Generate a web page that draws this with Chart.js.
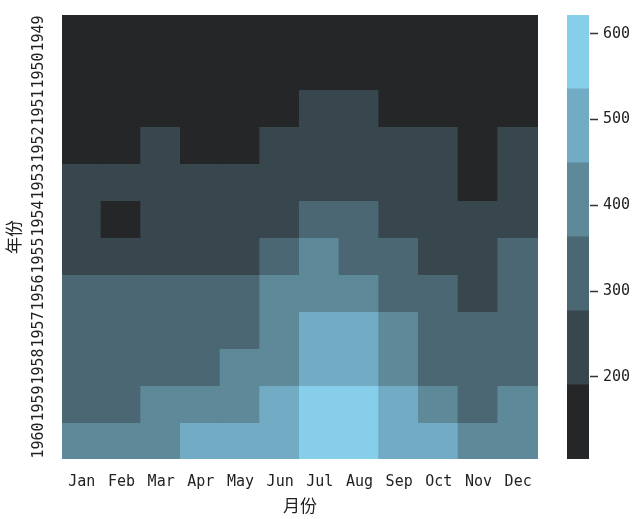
<!DOCTYPE html>
<html>
<head>
<meta charset="utf-8">
<script src="https://cdn.jsdelivr.net/npm/chart.js@4"></script>
<style>
  html, body { margin: 0; padding: 0; background: #fff; }
  #wrap { position: relative; width: 640px; height: 519px; }
  #wrap canvas { position: absolute; top: 0; }
</style>
</head>
<body>
<div id="wrap">
  <canvas id="heat" width="640" height="519" style="left:0"></canvas>
  <canvas id="bar" width="100" height="519" style="left:540px"></canvas>
</div>
<script>
// flights: 每月乘客人数
const months = ['Jan', 'Feb', 'Mar', 'Apr', 'May', 'Jun', 'Jul', 'Aug', 'Sep', 'Oct', 'Nov', 'Dec'];
const years = ['1949', '1950', '1951', '1952', '1953', '1954', '1955', '1956', '1957', '1958', '1959', '1960'];
const passengers = [
  [112, 118, 132, 129, 121, 135, 148, 148, 136, 119, 104, 118],
  [115, 126, 141, 135, 125, 149, 170, 170, 158, 133, 114, 140],
  [145, 150, 178, 163, 172, 178, 199, 199, 184, 162, 146, 166],
  [171, 180, 193, 181, 183, 218, 230, 242, 209, 191, 172, 194],
  [196, 196, 236, 235, 229, 243, 264, 272, 237, 211, 180, 201],
  [204, 188, 235, 227, 234, 264, 302, 293, 259, 229, 203, 229],
  [242, 233, 267, 269, 270, 315, 364, 347, 312, 274, 237, 278],
  [284, 277, 317, 313, 318, 374, 413, 405, 355, 306, 271, 306],
  [315, 301, 356, 348, 355, 422, 465, 467, 404, 347, 305, 336],
  [340, 318, 362, 348, 363, 435, 491, 505, 404, 359, 310, 337],
  [360, 342, 406, 396, 420, 472, 548, 559, 463, 407, 362, 405],
  [417, 391, 419, 461, 472, 535, 622, 606, 508, 461, 390, 432],
];
const cbarTicks = [200, 300, 400, 500, 600];
// dark_palette('skyblue', 6)
const palette = ['#252628', '#38474e', '#4b6774', '#5e8999', '#72abc4', '#87ceeb'];

const vmin = Math.min(...passengers.flat());
const vmax = Math.max(...passengers.flat());
const step = (vmax - vmin) / palette.length;
const colorFor = v => palette[Math.min(palette.length - 1, Math.floor((v - vmin) / step))];

const monoFont = "'DejaVu Sans Mono', 'Liberation Mono', monospace";
const cjkFont = "'Noto Sans CJK SC', 'Noto Sans', sans-serif";
const ink = '#222';

Chart.defaults.animation = false;

new Chart(document.getElementById('heat'), {
  type: 'bar',
  data: {
    labels: months,
    datasets: passengers.map((row, i) => ({
      label: years[i],
      data: row.map(() => [i, i + 1]),
      backgroundColor: row.map(colorFor),
      borderWidth: 0,
      barPercentage: 1,
      categoryPercentage: 1,
      inflateAmount: 1,
      xAxisID: 'x',
      yAxisID: 'y',
    })),
  },
  options: {
    responsive: false,
    layout: { padding: { left: 0, top: 15, right: 102, bottom: 0 } },
    plugins: { legend: { display: false }, tooltip: { enabled: false } },
    scales: {
      x: {
        stacked: true,
        grid: { display: false, drawTicks: false },
        border: { display: false },
        ticks: { color: ink, font: { family: monoFont, size: 15 }, padding: 14, autoSkip: false, maxRotation: 0 },
        title: { display: true, text: '月份', color: ink, font: { family: cjkFont, size: 17 }, padding: { top: 0, bottom: 3 } },
        afterFit: s => { s.height = 60; },
      },
      y: { min: 0, max: 12, reverse: true, display: false },
      yl: {
        type: 'category',
        labels: years,
        position: 'left',
        offset: true,
        grid: { display: false, drawTicks: false },
        border: { display: false },
        ticks: {
          color: ink, font: { family: monoFont, size: 15 }, padding: 5,
          autoSkip: false, minRotation: 90, maxRotation: 90, crossAlign: 'center',
        },
        title: { display: true, text: '年份', color: ink, font: { family: cjkFont, size: 17 }, padding: { top: 3, bottom: 0 } },
        afterFit: s => { s.width = 62; },
      },
    },
  },
});

new Chart(document.getElementById('bar'), {
  type: 'bar',
  data: {
    labels: [''],
    datasets: palette.map((c, i) => ({
      data: [[vmin + step * i, vmin + step * (i + 1)]],
      backgroundColor: c,
      borderWidth: 0,
      barPercentage: 1,
      categoryPercentage: 1,
      inflateAmount: 0.5,
    })),
  },
  options: {
    responsive: false,
    layout: { padding: { left: 27, top: 15, right: 0, bottom: 60 } },
    plugins: { legend: { display: false }, tooltip: { enabled: false } },
    scales: {
      x: { stacked: true, display: false },
      y: {
        position: 'right',
        min: vmin,
        max: vmax,
        afterBuildTicks: s => { s.ticks = cbarTicks.map(v => ({ value: v })); },
        grid: {
          drawOnChartArea: false, drawTicks: true, tickLength: 9,
          tickWidth: 1.5, tickColor: '#333',
        },
        border: { display: true, color: 'rgba(0,0,0,0)', width: 1 },
        ticks: { color: ink, font: { family: monoFont, size: 15 }, padding: 5 },
        afterFit: s => { s.width = 51; },
      },
    },
  },
});
</script>
</body>
</html>
